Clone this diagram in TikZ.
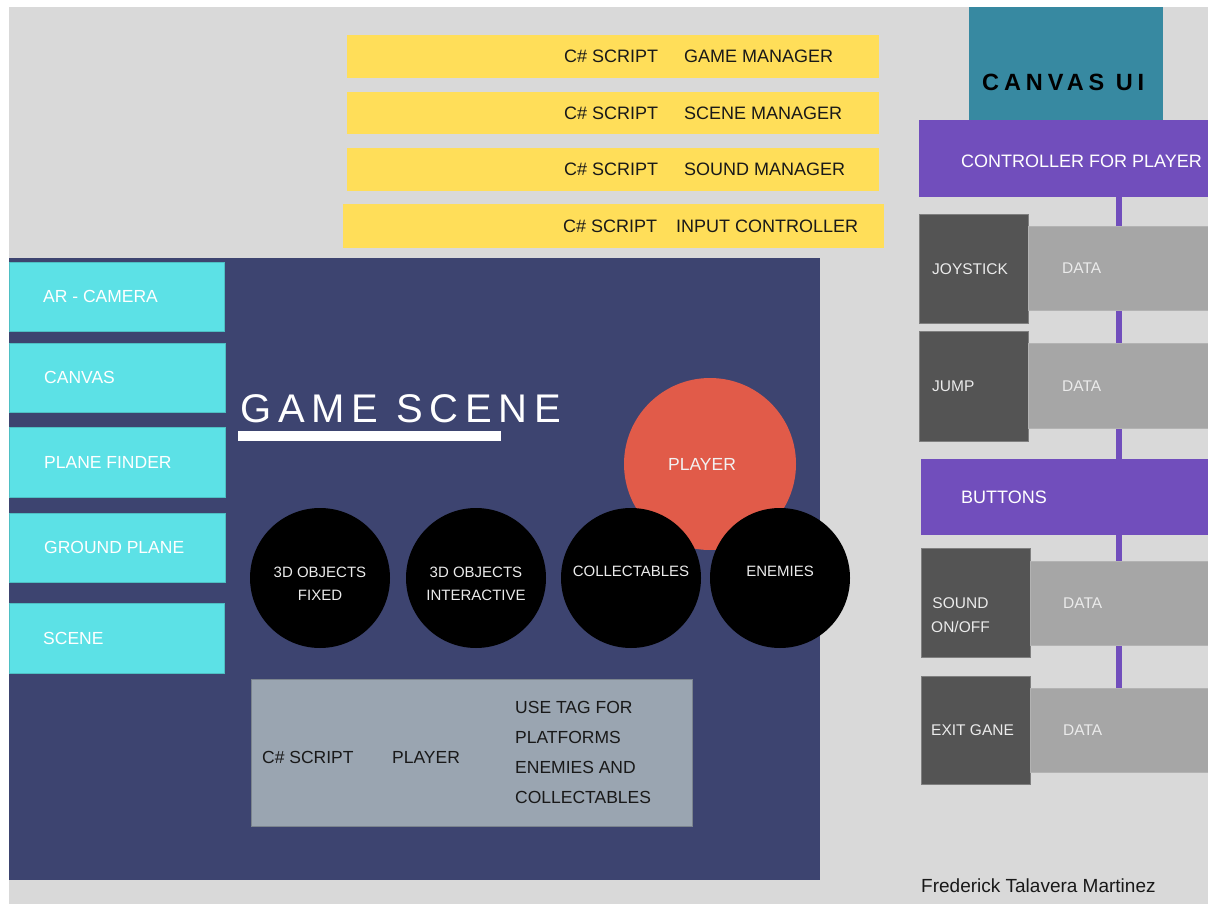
\documentclass[tikz,border=0pt]{standalone}
\usepackage{fontspec}
\setmainfont{Liberation Sans}
\newfontfamily\titlefont[LetterSpace=17]{Liberation Sans}
\newfontfamily\uifont[LetterSpace=21]{Liberation Sans}
\usepackage{tikz}
\usetikzlibrary{positioning}
\definecolor{pagegray}{HTML}{D9D9D9}
\definecolor{scenenavy}{HTML}{3D4470}
\definecolor{arcyan}{HTML}{5CE1E6}
\definecolor{scriptyellow}{HTML}{FFDE59}
\definecolor{playerred}{HTML}{E15B49}
\definecolor{uiteal}{HTML}{3789A1}
\definecolor{ctrlpurple}{HTML}{714EBC}
\definecolor{keygray}{HTML}{545454}
\definecolor{datagray}{HTML}{A6A6A6}
\definecolor{slate}{HTML}{9AA5B1}
\tikzset{
    every node/.style={inner sep=0pt, font=\fontsize{18}{22}\selectfont}
}
\tikzset{
    tile/.style={rectangle, anchor=north west},
    script/.style={tile, fill=scriptyellow, minimum width=532pt, minimum height=43pt},
    arbox/.style={tile, fill=arcyan, draw=arcyan!85!black, line width=.6pt,
    	minimum width=215pt, minimum height=69pt},
    keybox/.style={tile, fill=keygray, draw=keygray!75!white, line width=.6pt,
    	minimum width=109pt, minimum height=109pt},
    databox/.style={tile, fill=datagray, draw=datagray!85!white, line width=.6pt,
    	minimum width=180pt, minimum height=84pt},
    ctrlbox/.style={tile, fill=ctrlpurple, minimum width=289pt, minimum height=77pt},
    ball/.style={circle, fill=black, minimum size=140pt},
    lighttext/.style={anchor=west, text=white},
    darktext/.style={anchor=west, text=black!90},
    keytext/.style={anchor=west, text=white!92!black, font=\fontsize{15.5}{24}\selectfont},
    balltext/.style={text=white!92!black, align=center, font=\fontsize{15}{23}\selectfont}
}
\pgfdeclarelayer{background}
\pgfsetlayers{background,main}
\begin{document}
\begin{tikzpicture}[x=1pt, y=-1pt]
	\useasboundingbox (0,0) rectangle (1208,904);
	\coordinate (bus) at (1119,0);

	% scripts
	\node (gm) [script] at (347,35) {};
	\node (sm) [script, minimum height=42pt] at (347,92) {};
	\node (snd) [script] at (347,148) {};
	\node (inp) [script, minimum width=541pt, minimum height=44pt] at (343,204) {};
	\node (gmcs) [darktext, right=217pt of gm.west] {C\# SCRIPT};
	\node (gmname) [darktext, right=120pt of gmcs.west] {GAME MANAGER};
	\node (smcs) [darktext, right=217pt of sm.west] {C\# SCRIPT};
	\node (smname) [darktext, right=120pt of smcs.west] {SCENE MANAGER};
	\node (sndcs) [darktext, right=217pt of snd.west] {C\# SCRIPT};
	\node (sndname) [darktext, right=120pt of sndcs.west] {SOUND MANAGER};
	\node (inpcs) [darktext, right=220pt of inp.west] {C\# SCRIPT};
	\node (inpname) [darktext, right=113pt of inpcs.west] {INPUT CONTROLLER};

	% game scene
	\node (scene) [tile, fill=scenenavy, minimum width=811pt, minimum height=622pt] at (9,258) {};
	\node (arcam) [arbox] at (9,262) {};
	\node (canvas) [arbox, minimum width=216pt] at (9,343) {};
	\node (planef) [arbox, minimum width=216pt, minimum height=70pt] at (9,427) {};
	\node (groundp) [arbox, minimum width=216pt] at (9,513) {};
	\node (scn) [arbox, minimum height=70pt] at (9,603) {};
	\node (arcamtxt) [lighttext, right=34pt of arcam.west, font=\fontsize{17.5}{21}\selectfont] {AR - CAMERA};
	\node (canvastxt) [lighttext, right=35pt of canvas.west, font=\fontsize{17.5}{21}\selectfont] {CANVAS};
	\node (planeftxt) [lighttext, right=35pt of planef.west, font=\fontsize{17.5}{21}\selectfont] {PLANE FINDER};
	\node (groundptxt) [lighttext, right=35pt of groundp.west, font=\fontsize{17.5}{21}\selectfont] {GROUND PLANE};
	\node (scntxt) [lighttext, right=34pt of scn.west, font=\fontsize{17.5}{21}\selectfont] {SCENE};

	\node (title) [anchor=base west, text=white, font=\titlefont\fontsize{40}{44}\selectfont] at (240,422) {GAME SCENE};
	\node (bar) [tile, fill=white, minimum width=263pt, minimum height=10pt] at (238,431) {};

	\node (player) [circle, fill=playerred, minimum size=172pt] at (710,464) {};
	\node (playertxt) [text=white!95!black, font=\fontsize{17.5}{21}\selectfont] at ([xshift=-8pt]player.center) {PLAYER};
	\node (fixed) [ball] at (320,578) {};
	\node (interact) [ball] at (476,578) {};
	\node (collect) [ball] at (631,578) {};
	\node (enemies) [ball] at (780,578) {};
	\node (fixedtxt) [balltext] at ([yshift=-5.5pt]fixed.center) {3D OBJECTS\\FIXED};
	\node (interacttxt) [balltext] at ([yshift=-5.5pt]interact.center) {3D OBJECTS\\INTERACTIVE};
	\node (collecttxt) [balltext] at ([yshift=7pt]collect.center) {COLLECTABLES};
	\node (enemiestxt) [balltext] at ([yshift=7pt]enemies.center) {ENEMIES};

	\node (tags) [tile, fill=slate, draw=slate!80!black, line width=.6pt,
		minimum width=441pt, minimum height=147pt] at (251,679) {};
	\node (tagscs) [darktext, right=11pt of tags.west, yshift=-4.5pt, font=\fontsize{17.5}{21}\selectfont] {C\# SCRIPT};
	\node (tagsname) [darktext, right=130pt of tagscs.west, font=\fontsize{17.5}{21}\selectfont] {PLAYER};
	\node (tagsnote) [darktext, align=left, right=123pt of tagsname.west, yshift=4.5pt, font=\fontsize{17.5}{30}\selectfont]
		{USE TAG FOR\\PLATFORMS\\ENEMIES AND\\COLLECTABLES};

	% canvas ui
	\node (canvasui) [tile, fill=uiteal, minimum width=194pt, minimum height=113pt] at (969,7) {};
	\node (canvasuitxt) [anchor=west, font=\uifont\bfseries\fontsize{23.5}{26}\selectfont] at (982,82.5) {CANVAS UI};
	\node (ctrl) [ctrlbox] at (919,120) {};
	\node (ctrltxt) [lighttext, right=42pt of ctrl.west, yshift=-3pt] {CONTROLLER FOR PLAYER};

	\node (joy) [keybox] at (919,214) {};
	\node (joydata) [databox] at (1028,226) {};
	\node (jump) [keybox, minimum height=110pt] at (919,331) {};
	\node (jumpdata) [databox, minimum height=85pt] at (1028,343) {};
	\node (buttons) [ctrlbox, minimum width=287pt, minimum height=76pt] at (921,459) {};
	\node (sound) [keybox] at (921,548) {};
	\node (sounddata) [databox, minimum width=178pt] at (1030,561) {};
	\node (exitg) [keybox, minimum height=108pt] at (921,676) {};
	\node (exitdata) [databox, minimum width=178pt] at (1030,688) {};

	\node (joytxt) [keytext, right=13pt of joy.west] {JOYSTICK};
	\node (jumptxt) [keytext, right=13pt of jump.west] {JUMP};
	\node (buttonstxt) [lighttext, right=40pt of buttons.west] {BUTTONS};
	\node (soundtxt) [keytext, align=center, right=10pt of sound.west, yshift=-12pt] {SOUND\\ON/OFF};
	\node (exitgtxt) [keytext, right=10pt of exitg.west] {EXIT GANE};
	\node (joydatatxt) [keytext, right=34pt of joydata.west] {DATA};
	\node (jumpdatatxt) [keytext, right=34pt of jumpdata.west] {DATA};
	\node (sounddatatxt) [keytext, right=33pt of sounddata.west] {DATA};
	\node (exitdatatxt) [keytext, right=33pt of exitdata.west] {DATA};

	\node (author) [anchor=west, text=black!90, font=\fontsize{19}{22}\selectfont] at (921,886) {Frederick Talavera Martinez};

	\begin{pgfonlayer}{background}
		\fill[white] (0,0) rectangle (1208,904);
		\fill[pagegray] (9,7) rectangle (1208,904);
		\draw[ctrlpurple, line width=5.5pt] (ctrl.south -| bus) -- (exitdata.north -| bus);
	\end{pgfonlayer}
\end{tikzpicture}
\end{document}
